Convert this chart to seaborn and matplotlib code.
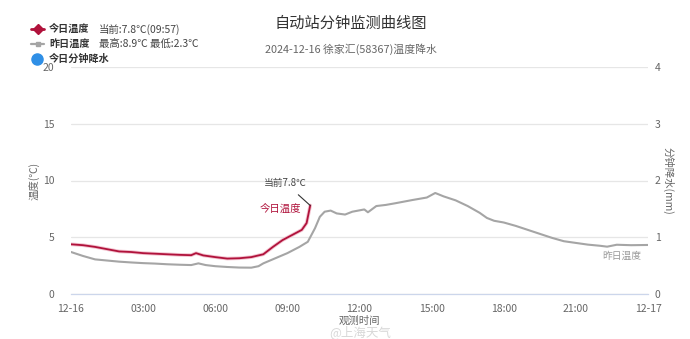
import matplotlib
matplotlib.use("Agg")
import matplotlib.pyplot as plt
import seaborn as sns
import pandas as pd
from matplotlib.lines import Line2D

sns.set_theme(style="white")
plt.rcParams['font.family'] = ['Noto Sans CJK SC', 'DejaVu Sans']
plt.rcParams['axes.unicode_minus'] = False

# ---------------- data ----------------
title = "自动站分钟监测曲线图"
subtitle = "2024-12-16 徐家汇(58367)温度降水"
x_tick_pos = [0, 3, 6, 9, 12, 15, 18, 21, 24]
x_tick_labels = ["12-16", "03:00", "06:00", "09:00", "12:00", "15:00", "18:00", "21:00", "12-17"]
y_left_ticks = [0, 5, 10, 15, 20]
y_right_ticks = [0, 1, 2, 3, 4]

today_hours = [0, 0.5, 1, 1.5, 2, 2.5, 3, 3.5, 4, 4.5, 5, 5.2, 5.5, 6, 6.5, 7, 7.5,
               8, 8.4, 8.8, 9.2, 9.6, 9.8, 9.95]
today_temp = [4.38, 4.3, 4.15, 3.95, 3.75, 3.7, 3.6, 3.55, 3.5, 3.45, 3.42, 3.6, 3.4,
              3.25, 3.12, 3.15, 3.25, 3.5, 4.15, 4.75, 5.2, 5.65, 6.25, 7.8]

yest_hours = [0, 0.5, 1, 1.5, 2, 2.5, 3, 3.5, 4, 4.5, 5, 5.3, 5.6, 6, 6.5, 7, 7.5, 7.8,
              8, 8.5, 9, 9.5, 9.85, 10.15, 10.35, 10.55, 10.8, 11.05, 11.4, 11.7, 12.2,
              12.35, 12.7, 13.1, 13.5, 14.2, 14.8, 15.15, 15.5, 16.0, 16.5, 17, 17.3,
              17.6, 18, 18.5, 19, 19.5, 20, 20.5, 21, 21.5, 22, 22.3, 22.7, 23.3, 24]
yest_temp = [3.7, 3.35, 3.05, 2.95, 2.85, 2.78, 2.72, 2.68, 2.62, 2.58, 2.55, 2.7, 2.55,
             2.45, 2.38, 2.33, 2.32, 2.45, 2.7, 3.15, 3.6, 4.15, 4.6, 5.8, 6.8, 7.25,
             7.35, 7.1, 7.0, 7.25, 7.45, 7.2, 7.75, 7.85, 8.0, 8.28, 8.5, 8.9, 8.6,
             8.25, 7.75, 7.15, 6.7, 6.45, 6.3, 6.0, 5.65, 5.3, 4.95, 4.65, 4.5, 4.35,
             4.25, 4.17, 4.34, 4.3, 4.32]

legend_labels = ["今日温度", "昨日温度", "今日分钟降水"]
legend_extra = ["当前:7.8℃(09:57)", "最高:8.9℃ 最低:2.3℃", ""]

RED = "#b0123b"
RED_HALO = "#f3c3d0"
GRAY = "#a5a5a5"
BLUE = "#2f8fe6"
TXT = "#666666"

df_today = pd.DataFrame({"h": today_hours, "t": today_temp})
df_yest = pd.DataFrame({"h": yest_hours, "t": yest_temp})

fig = plt.figure(figsize=(6.9, 3.39), dpi=100)
ax = fig.add_axes([71 / 690, 1 - 294 / 339, 577 / 690, 227 / 339])

sns.lineplot(data=df_yest, x="h", y="t", ax=ax, color=GRAY, linewidth=1.5)
sns.lineplot(data=df_today, x="h", y="t", ax=ax, color=RED_HALO, linewidth=2.6)
sns.lineplot(data=df_today, x="h", y="t", ax=ax, color=RED, linewidth=1.3)

ax.set_xlim(0, 24)
ax.set_ylim(0, 20)
ax.set_xticks(x_tick_pos)
ax.set_xticklabels(x_tick_labels)
ax.set_yticks(y_left_ticks)
ax.grid(axis="y", color="#e6e6e6", linewidth=0.9)
ax.set_axisbelow(True)
for s in ["top", "left", "right"]:
    ax.spines[s].set_visible(False)
ax.spines["bottom"].set_color("#ccd6eb")
ax.spines["bottom"].set_linewidth(0.9)
ax.tick_params(axis="x", length=5, color="#ccd6eb", labelcolor=TXT, labelsize=7.5, pad=2)
ax.tick_params(axis="y", length=0, labelcolor=TXT, labelsize=7.5, pad=12)
ax.set_xlabel("观测时间", fontsize=7.5, color=TXT)
ax.xaxis.set_label_coords(0.5, -0.095)
ax.set_ylabel("温度(℃)", fontsize=7.5, color=TXT)
ax.yaxis.set_label_coords(-0.055, 0.5)

ax2 = ax.twinx()
ax2.set_ylim(0, 4)
ax2.set_yticks(y_right_ticks)
for s in ["top", "left", "right", "bottom"]:
    ax2.spines[s].set_visible(False)
ax2.tick_params(axis="y", length=0, labelcolor=TXT, labelsize=7.5, pad=5)
ax2.grid(False)
ax2.set_ylabel("分钟降水(mm)", fontsize=7.5, color=TXT, rotation=270, va="center")
ax2.yaxis.set_label_coords(1.035, 0.5)

# annotations
ax.annotate("当前7.8℃", xy=(today_hours[-1], today_temp[-1]), xytext=(8.9, 9.8),
            fontsize=7, color="#444444", ha="center", va="center",
            arrowprops=dict(arrowstyle="-", color="#333333", lw=0.8, shrinkA=4, shrinkB=0))
ax.text(8.72, 7.55, "今日温度", fontsize=7.5, color=RED, ha="center", va="center")
ax.text(22.9, 3.4, "昨日温度", fontsize=7, color="#999999", ha="center", va="center")

# titles
fig.text(351 / 690, 1 - 23 / 339, title, ha="center", va="center", fontsize=11, color="#333333")
fig.text(351 / 690, 1 - 49 / 339, subtitle, ha="center", va="center", fontsize=7.8, color=TXT)

# legend (custom, top-left)
rows_y = [1 - 29 / 339, 1 - 44 / 339, 1 - 59 / 339]
fig.add_artist(Line2D([31 / 690, 44 / 690], [rows_y[0]] * 2, transform=fig.transFigure, color=RED, lw=2))
fig.add_artist(Line2D([37.5 / 690], [rows_y[0]], transform=fig.transFigure, color=RED, marker="D", markersize=5))
fig.add_artist(Line2D([31 / 690, 44 / 690], [rows_y[1]] * 2, transform=fig.transFigure, color=GRAY, lw=1.6))
fig.add_artist(Line2D([37.5 / 690], [rows_y[1]], transform=fig.transFigure, color=GRAY, marker="s", markersize=3))
fig.add_artist(Line2D([37 / 690], [rows_y[2]], transform=fig.transFigure, color=BLUE, marker="o", markersize=8, lw=0))
for y, lab, ext in zip(rows_y, legend_labels, legend_extra):
    fig.text(49 / 690, y, lab, ha="left", va="center", fontsize=7.3, color="#333333", fontweight="bold")
    if ext:
        fig.text(99 / 690, y, ext, ha="left", va="center", fontsize=7.5, color="#444444")

# watermark
fig.text(360 / 690, 1 - 332 / 339, "@上海天气", ha="center", va="center", fontsize=9,
         color="#c8c8c8", alpha=0.7)

fig.savefig("out.png", dpi=100)
